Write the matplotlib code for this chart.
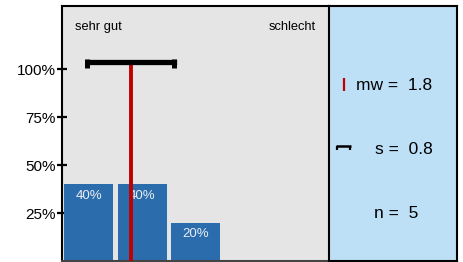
import matplotlib
matplotlib.use("Agg")
import matplotlib.pyplot as plt

categories = [1, 2, 3, 4, 5]
shares = [40, 40, 20, 0, 0]
mean_val = 1.8
sd_val = 0.8
n_val = 5
ytick_vals = [25, 50, 75, 100]
ytick_labels = ["25%", "50%", "75%", "100%"]
left_label = "sehr gut"
right_label = "schlecht"

plt.rcParams['font.family'] = ['Liberation Sans', 'DejaVu Sans']

fig = plt.figure(figsize=(4.64, 2.62), dpi=100)
W, H = 464, 262
ax = fig.add_axes([62 / W, 1 / H, 267 / W, 255 / H])
ax.set_facecolor('#e5e5e5')
ax.set_xlim(0.5, 5.5)
ax.set_ylim(0, 133)

bar_color = '#2b6dac'
for c, v in zip(categories, shares):
    if v > 0:
        ax.bar(c, v, width=0.92, color=bar_color, zorder=2)
        ax.text(c, v - 2.8, f"{v}%", ha='center', va='top', color='#e8eef5',
                fontsize=9.5, zorder=3)

sd_y = 104
ax.plot([mean_val, mean_val], [0, sd_y], color='#c00000', lw=2.8, zorder=4,
        solid_capstyle='butt')
ax.plot([mean_val - sd_val, mean_val + sd_val], [sd_y, sd_y], color='black',
        lw=3.8, zorder=5, solid_capstyle='projecting')
for xe, off in ((mean_val - sd_val, -0.04), (mean_val + sd_val, 0.0)):
    ax.plot([xe + off, xe + off], [sd_y + 1.5, sd_y - 3.5], color='black',
            lw=3.6, zorder=5, solid_capstyle='butt')

ax.set_yticks(ytick_vals)
ax.set_yticklabels(ytick_labels, fontsize=11)
ax.tick_params(axis='y', length=7.5, width=1.6, color='black',
               direction='inout', pad=0.5)
ax.set_xticks([])
for s in ['left', 'top']:
    ax.spines[s].set_color('black')
    ax.spines[s].set_linewidth(1.5)
ax.spines['bottom'].set_color('#444444')
ax.spines['bottom'].set_linewidth(1.5)
ax.spines['right'].set_visible(False)

ax.text(0.05, 0.917, left_label, transform=ax.transAxes, fontsize=9.3,
        ha='left', va='center')
ax.text(0.95, 0.917, right_label, transform=ax.transAxes, fontsize=9.3,
        ha='right', va='center')

lax = fig.add_axes([329 / W, 1 / H, 128 / W, 255 / H])
lax.set_facecolor('#bde0f7')
lax.set_xlim(0, 128)
lax.set_ylim(0, 255)
lax.set_xticks([])
lax.set_yticks([])
for s in lax.spines.values():
    s.set_color('black')
    s.set_linewidth(1.5)

# legend entries (panel coords in px; pixel row Y corresponds to 261 - Y)
lax.plot([15.5, 15.5], [261 - 78, 261 - 91], color='#c00000', lw=1.6,
         solid_capstyle='butt')
lax.text(27, 175.5, f"mw =  {mean_val:.1f}", fontsize=12.5,
         ha='left', va='center')
lax.plot([7, 22], [261 - 146, 261 - 146], color='black', lw=1.8,
         solid_capstyle='butt')
for xe in (7.6, 21.4):
    lax.plot([xe, xe], [261 - 145.5, 261 - 150], color='black', lw=1.6,
             solid_capstyle='butt')
lax.text(46.5, 112, f"s =  {sd_val:.1f}", fontsize=12.5,
         ha='left', va='center')
lax.text(45.5, 47.5, f"n =  {n_val}", fontsize=12.5,
         ha='left', va='center')

fig.savefig("out.png", dpi=100)
